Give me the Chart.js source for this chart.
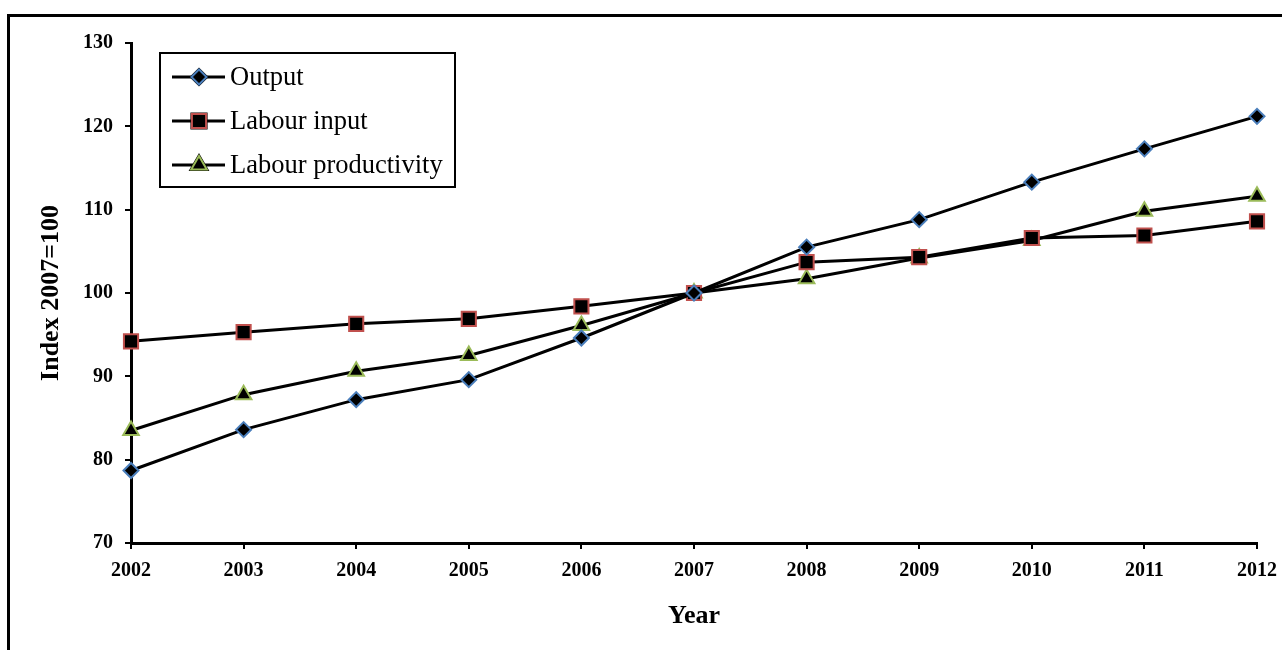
<!DOCTYPE html>
<html>
<head>
<meta charset="utf-8">
<script src="https://cdn.jsdelivr.net/npm/chart.js@4.4.1/dist/chart.umd.min.js"></script>
<style>
  html, body { margin: 0; padding: 0; background: #fff; overflow: hidden; }
  #wrap { position: relative; width: 1282px; height: 650px; }
  #frame { position: absolute; left: 7px; top: 14px; width: 1400px; height: 800px;
           border-left: 3px solid #000; border-top: 3px solid #000; }
  canvas { position: absolute; left: 0; top: 0; }
</style>
</head>
<body>
<div id="wrap">
  <div id="frame"></div>
  <canvas id="chart" width="1282" height="650"></canvas>
</div>
<script>
const years = ["2002","2003","2004","2005","2006","2007","2008","2009","2010","2011","2012"];
const output = [78.7, 83.6, 87.2, 89.6, 94.6, 100, 105.5, 108.8, 113.3, 117.3, 121.2];
const labourInput = [94.2, 95.3, 96.3, 96.9, 98.4, 100, 103.7, 104.3, 106.6, 106.9, 108.6];
const labourProductivity = [83.5, 87.8, 90.6, 92.5, 96.1, 100, 101.7, 104.2, 106.3, 109.8, 111.6];
const seriesNames = ["Output", "Labour input", "Labour productivity"];

const serif = "'Liberation Serif', 'Times New Roman', serif";

// legend box inside the plot, drawn on the canvas
const boxLegend = {
  id: "boxLegend",
  afterDraw(chart) {
    const ctx = chart.ctx;
    const a = chart.chartArea;
    const x0 = a.left + 29, y0 = a.top + 10, w = 295, h = 134;
    ctx.save();
    ctx.fillStyle = "#fff";
    ctx.fillRect(x0, y0, w, h);
    ctx.strokeStyle = "#000";
    ctx.lineWidth = 2;
    ctx.strokeRect(x0, y0, w, h);
    ctx.font = "26.5px " + serif;
    ctx.textBaseline = "middle";
    chart.data.datasets.forEach((ds, i) => {
      const cy = y0 + 24 + i * 44;
      ctx.strokeStyle = "#000";
      ctx.lineWidth = 3;
      ctx.beginPath();
      ctx.moveTo(x0 + 12, cy);
      ctx.lineTo(x0 + 65, cy);
      ctx.stroke();
      Chart.helpers.drawPoint(ctx, {
        pointStyle: ds.pointStyle, radius: ds.pointRadius, borderWidth: ds.pointBorderWidth, rotation: 0
      }, x0 + 39, cy);
      ctx.fillStyle = "#000";
      ctx.strokeStyle = ds.pointBorderColor;
      ctx.lineWidth = ds.pointBorderWidth;
      ctx.fill();
      ctx.stroke();
      ctx.fillStyle = "#000";
      ctx.fillText(ds.label, x0 + 70, cy + 1);
    });
    ctx.restore();
  }
};

new Chart(document.getElementById("chart").getContext("2d"), {
  type: "line",
  data: {
    labels: years,
    datasets: [
      {
        label: seriesNames[0], data: output,
        borderColor: "#000", borderWidth: 3, tension: 0,
        pointStyle: "rectRot", pointRadius: 7.5, pointBorderWidth: 2,
        pointBackgroundColor: "#000", pointBorderColor: "#4a7ebb"
      },
      {
        label: seriesNames[1], data: labourInput,
        borderColor: "#000", borderWidth: 3, tension: 0,
        pointStyle: "rect", pointRadius: 10, pointBorderWidth: 2,
        pointBackgroundColor: "#000", pointBorderColor: "#c0504d"
      },
      {
        label: seriesNames[2], data: labourProductivity,
        borderColor: "#000", borderWidth: 3, tension: 0,
        pointStyle: "triangle", pointRadius: 9, pointBorderWidth: 2,
        pointBackgroundColor: "#000", pointBorderColor: "#9bbb59"
      }
    ]
  },
  options: {
    responsive: false,
    animation: false,
    layout: { padding: { left: 30, right: 25, top: 43, bottom: 0 } },
    plugins: { legend: { display: false }, tooltip: { enabled: false } },
    scales: {
      x: {
        offset: false,
        afterFit(s) { s.height = 107; s.paddingRight = 10; s.paddingLeft = 10; },
        grid: { drawOnChartArea: false, drawTicks: true, tickLength: 6, color: "#000", lineWidth: 2 },
        border: { color: "#000", width: 3 },
        ticks: { color: "#000", padding: 10, maxRotation: 0, font: { family: serif, size: 20, weight: "bold" } },
        title: { display: true, text: "Year", color: "#000", padding: { top: 0, bottom: 18 },
                 font: { family: serif, size: 26, weight: "bold" } }
      },
      y: {
        min: 70, max: 130,
        afterFit(s) { s.width = 101; },
        grid: { drawOnChartArea: false, drawTicks: true, tickLength: 6, color: "#000", lineWidth: 2 },
        border: { color: "#000", width: 3 },
        ticks: { stepSize: 10, color: "#000", padding: 12, font: { family: serif, size: 20, weight: "bold" } },
        title: { display: true, text: "Index 2007=100", color: "#000", padding: { top: 6, bottom: 0 },
                 font: { family: serif, size: 26, weight: "bold" } }
      }
    }
  },
  plugins: [boxLegend]
});
</script>
</body>
</html>
